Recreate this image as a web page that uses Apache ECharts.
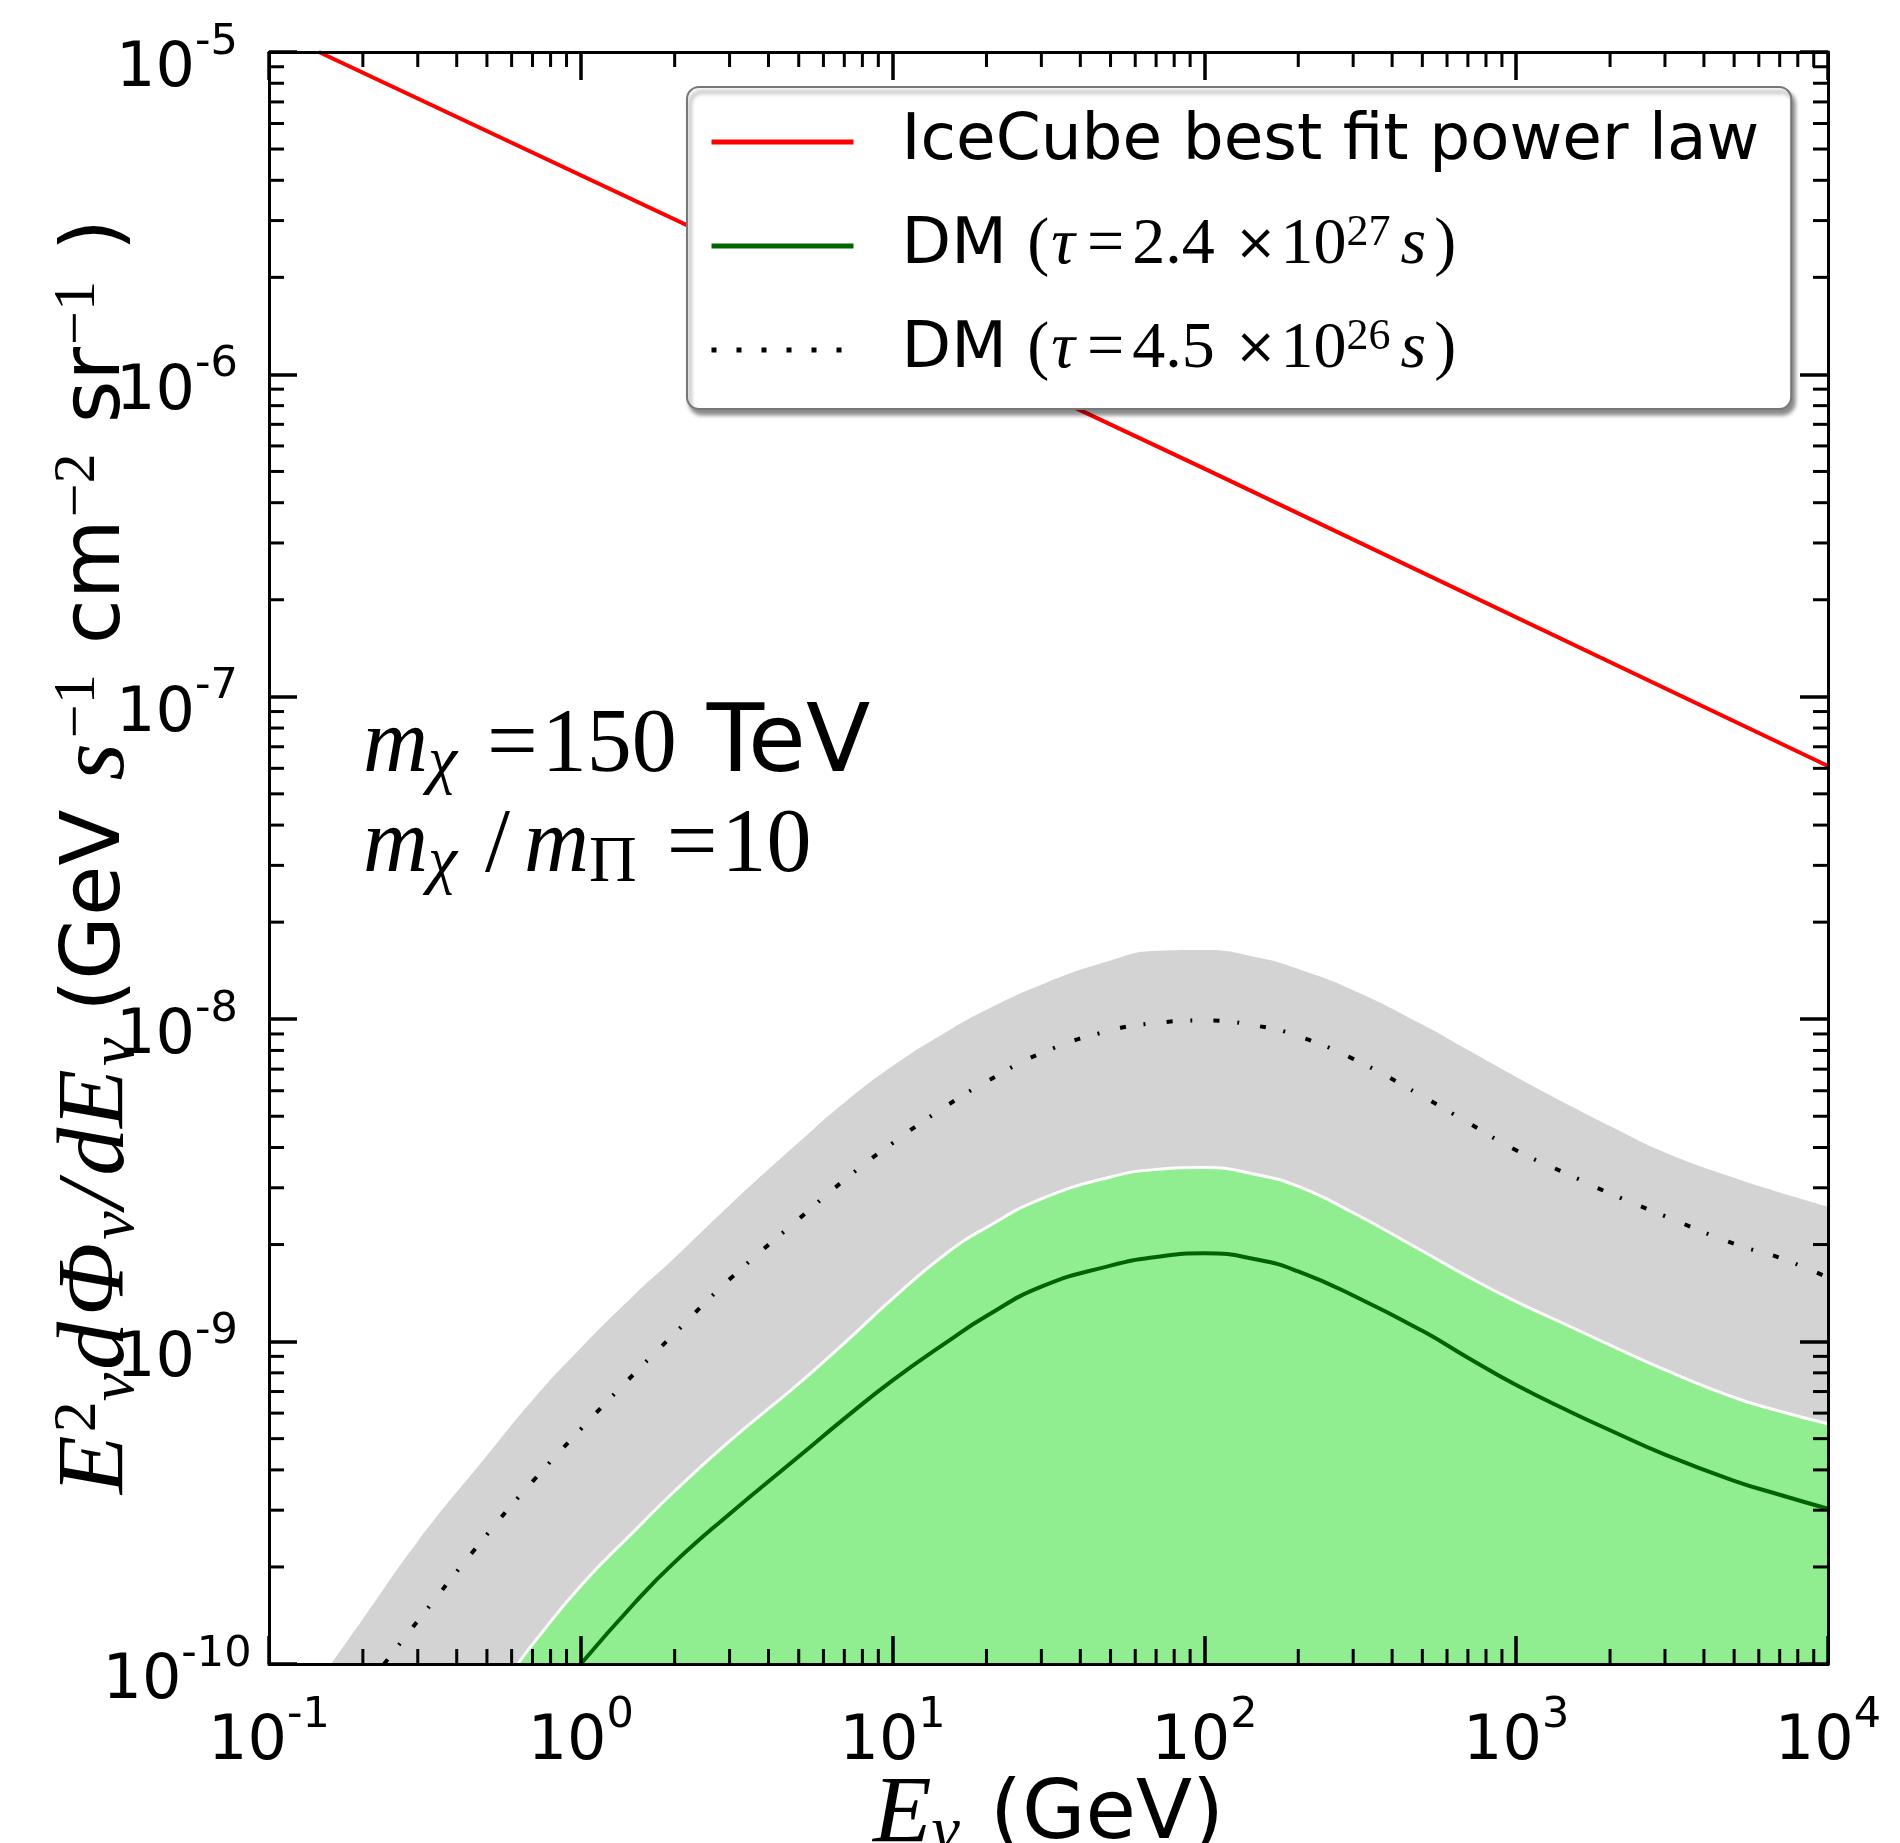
<!DOCTYPE html>
<html>
<head>
<meta charset="utf-8">
<title>DM neutrino flux vs IceCube</title>
<script src="https://cdn.jsdelivr.net/npm/echarts@6/dist/echarts.min.js"></script>
<style>
  html, body { margin: 0; padding: 0; background: #fff; }
  #main { width: 1900px; height: 1843px; }
</style>
</head>
<body>
<div id="main"></div>
<script>
// E^2 dPhi/dE in GeV s^-1 cm^-2 sr^-1, energies in GeV
var powerE = [0.1445, 100, 10000];
var powerFlux = [1.0e-5, 5.1e-7, 6.1e-8];

// tau = 4.5e26 s : upper edge of grey band
var grayE = [0.158, 0.2, 0.3, 0.5, 0.7, 1, 1.5, 2, 3, 5, 7, 10, 15, 20, 30, 50, 70, 100, 150, 200, 300, 500, 700, 1000, 1500, 2000, 3000, 5000, 7000, 10000];
var grayFlux = [1.0e-10, 1.38e-10, 2.40e-10, 4.43e-10, 6.58e-10, 9.55e-10, 1.41e-9, 1.82e-9, 2.65e-9, 4.15e-9, 5.51e-9, 7.16e-9, 9.18e-9, 1.07e-8, 1.28e-8, 1.52e-8, 1.63e-8, 1.64e-8, 1.55e-8, 1.43e-8, 1.23e-8, 9.62e-9, 8.02e-9, 6.62e-9, 5.37e-9, 4.66e-9, 3.86e-9, 3.22e-9, 2.90e-9, 2.62e-9];

// tau = 4.5e26 s : central (dotted) curve
var dotE = [0.234, 0.3, 0.5, 0.7, 1, 1.5, 2, 3, 5, 7, 10, 15, 20, 30, 50, 70, 100, 150, 200, 300, 500, 700, 1000, 1500, 2000, 3000, 5000, 7000, 10000];
var dotFlux = [1.0e-10, 1.36e-10, 2.52e-10, 3.68e-10, 5.35e-10, 8.04e-10, 1.06e-9, 1.56e-9, 2.40e-9, 3.17e-9, 4.13e-9, 5.41e-9, 6.40e-9, 7.85e-9, 9.23e-9, 9.73e-9, 9.91e-9, 9.51e-9, 8.86e-9, 7.53e-9, 5.77e-9, 4.78e-9, 3.92e-9, 3.27e-9, 2.88e-9, 2.45e-9, 2.01e-9, 1.82e-9, 1.58e-9];

// tau = 2.4e27 s : upper edge of green band
var greenE = [0.628, 0.7, 1, 1.5, 2, 3, 5, 7, 10, 15, 20, 30, 50, 70, 100, 150, 200, 300, 500, 700, 1000, 1500, 2000, 3000, 5000, 7000, 10000];
var greenFlux = [1.0e-10, 1.15e-10, 1.75e-10, 2.61e-10, 3.44e-10, 4.91e-10, 7.41e-10, 9.89e-10, 1.36e-9, 1.89e-9, 2.26e-9, 2.77e-9, 3.24e-9, 3.42e-9, 3.47e-9, 3.28e-9, 3.03e-9, 2.51e-9, 1.91e-9, 1.59e-9, 1.33e-9, 1.11e-9, 9.75e-10, 8.17e-10, 6.71e-10, 6.08e-10, 5.56e-10];

// tau = 2.4e27 s : central (solid) curve
var solidE = [1, 1.5, 2, 3, 5, 7, 10, 15, 20, 30, 50, 70, 100, 150, 200, 300, 500, 700, 1000, 1500, 2000, 3000, 5000, 7000, 10000];
var solidFlux = [1.0e-10, 1.56e-10, 2.07e-10, 2.92e-10, 4.40e-10, 5.77e-10, 7.58e-10, 1.00e-9, 1.20e-9, 1.48e-9, 1.72e-9, 1.83e-9, 1.88e-9, 1.79e-9, 1.65e-9, 1.39e-9, 1.08e-9, 8.91e-10, 7.33e-10, 6.04e-10, 5.31e-10, 4.46e-10, 3.70e-10, 3.35e-10, 3.03e-10];

var xMin = 0.1, xMax = 1e4;
var yMin = 1e-10, yMax = 1e-5;
var minorX = [];
var minorY = [];
for (var n = -1; n < 4; n++) {
  for (var k = 2; k < 10; k++) minorX.push(k * Math.pow(10, n));
}
for (var m = -10; m < -5; m++) {
  for (var k2 = 2; k2 < 10; k2++) minorY.push(k2 * Math.pow(10, m));
}

var names = ['IceCube best fit power law', 'DM (τ=2.4×10^27 s)', 'DM (τ=4.5×10^26 s)'];
var legendText = {};
legendText[names[0]] = 'IceCube best fit power law';
legendText[names[1]] = 'DM {p|(}{tau|τ}{eq|=}{m|2.4}{x|×}{m|10}{sup|27}{s|s}{pr|)}';
legendText[names[2]] = 'DM {p|(}{tau|τ}{eq|=}{m|4.5}{x|×}{m|10}{sup|26}{s|s}{pr|)}';

function zip(a, b) {
  return a.map(function (v, i) { return [v, b[i]]; });
}
function expLabel(v) {
  var e = Math.round(Math.log10(v));
  return '{b|10}{s|' + e + '}';
}

var SANS = 'DejaVu Sans';
var SERIF = 'Liberation Serif';
var tickRich = {
  b: { fontFamily: SANS, fontSize: 62, lineHeight: 62, verticalAlign: 'bottom', color: '#000' },
  s: { fontFamily: SANS, fontSize: 43, lineHeight: 43, verticalAlign: 'bottom', padding: [0, 0, 37, 0], color: '#000' }
};
var yTitleRich = {
  it: { fontFamily: SERIF, fontStyle: 'italic', fontSize: 96, lineHeight: 100, verticalAlign: 'middle', color: '#000', padding: [0, 3, 0, 3] },
  t: { fontFamily: SANS, fontSize: 82, lineHeight: 100, verticalAlign: 'middle', color: '#000' },
  sub: { fontFamily: SERIF, fontStyle: 'italic', fontSize: 64, lineHeight: 36, verticalAlign: 'bottom', color: '#000' },
  sup: { fontFamily: SERIF, fontSize: 62, lineHeight: 40, verticalAlign: 'top', color: '#000' },
  ex: { fontFamily: SERIF, fontSize: 60, lineHeight: 40, verticalAlign: 'top', color: '#000', padding: [0, 4, 0, 2] }
};
var xTitleRich = {
  it: { fontFamily: SERIF, fontStyle: 'italic', fontSize: 96, lineHeight: 96, verticalAlign: 'middle', color: '#000' },
  t: { fontFamily: SANS, fontSize: 82, lineHeight: 96, verticalAlign: 'middle', color: '#000', padding: [0, 0, 0, 30] },
  sub: { fontFamily: SERIF, fontStyle: 'italic', fontSize: 64, lineHeight: 36, verticalAlign: 'bottom', color: '#000' }
};

var chart = echarts.init(document.getElementById('main'));

var axisCommon = {
  type: 'log',
  logBase: 10,
  interval: 1,
  z: 5,
  nameMoveOverlap: false,
  axisLine: { lineStyle: { color: '#000', width: 3 } },
  axisTick: { inside: true, length: 28, lineStyle: { color: '#000', width: 3.5 } },
  splitLine: { show: false }
};

function minorTicks(horizontal) {
  return function (params, api) {
    var v = api.value(horizontal ? 0 : 1);
    var a, b, len = 15;
    if (horizontal) {
      a = api.coord([v, yMin]);
      b = api.coord([v, yMax]);
      return { type: 'group', children: [
        { type: 'line', shape: { x1: a[0], y1: a[1], x2: a[0], y2: a[1] - len }, style: { stroke: '#000', lineWidth: 3 } },
        { type: 'line', shape: { x1: b[0], y1: b[1], x2: b[0], y2: b[1] + len }, style: { stroke: '#000', lineWidth: 3 } }
      ] };
    }
    a = api.coord([xMin, v]);
    b = api.coord([xMax, v]);
    return { type: 'group', children: [
      { type: 'line', shape: { x1: a[0], y1: a[1], x2: a[0] + len, y2: a[1] }, style: { stroke: '#000', lineWidth: 3 } },
      { type: 'line', shape: { x1: b[0], y1: b[1], x2: b[0] - len, y2: b[1] }, style: { stroke: '#000', lineWidth: 3 } }
    ] };
  };
}

chart.setOption({
  animation: false,
  backgroundColor: '#fff',
  grid: { left: 269, top: 52, width: 1559, height: 1612, containLabel: false, outerBoundsMode: 'none' },
  legend: {
    data: [
      { name: names[0] },
      { name: names[1] },
      { name: names[2], lineStyle: { type: [5, 20], width: 5 } }
    ],
    left: 687,
    top: 87,
    orient: 'vertical',
    selectedMode: false,
    itemWidth: 142,
    itemHeight: 12,
    itemGap: 34,
    padding: [20, 32, 24, 22],
    backgroundColor: '#fff',
    borderColor: '#777',
    borderWidth: 2,
    borderRadius: 12,
    shadowColor: 'rgba(0,0,0,0.45)',
    shadowBlur: 4,
    shadowOffsetX: 3,
    shadowOffsetY: 5,
    itemStyle: { opacity: 0 },
    lineStyle: { width: 5 },
    formatter: function (name) { return legendText[name]; },
    textStyle: {
      fontFamily: SANS,
      fontSize: 64.5,
      lineHeight: 70,
      color: '#000',
      padding: [0, 0, 0, 43],
      rich: {
        p: { fontFamily: SERIF, fontSize: 66, lineHeight: 70, color: '#000' },
        pr: { fontFamily: SERIF, fontSize: 66, lineHeight: 70, color: '#000', padding: [0, 0, 0, 8] },
        tau: { fontFamily: SERIF, fontStyle: 'italic', fontSize: 66, lineHeight: 70, color: '#000', padding: [0, 8, 0, 2] },
        eq: { fontFamily: SERIF, fontSize: 66, lineHeight: 70, color: '#000', padding: [0, 8, 0, 4] },
        m: { fontFamily: SERIF, fontSize: 66, lineHeight: 70, color: '#000' },
        s: { fontFamily: SERIF, fontStyle: 'italic', fontSize: 66, lineHeight: 70, color: '#000', padding: [0, 0, 0, 10] },
        x: { fontFamily: SANS, fontSize: 50, lineHeight: 70, color: '#000', padding: [0, 4, 0, 20] },
        sup: { fontFamily: SERIF, fontSize: 44, lineHeight: 30, verticalAlign: 'top', color: '#000' }
      }
    }
  },
  xAxis: [
    Object.assign({}, axisCommon, {
      position: 'bottom',
      min: xMin,
      max: xMax,
      axisLabel: { margin: 48, formatter: expLabel, rich: tickRich },
      name: '{it|E}{sub|ν}{t|(GeV)}',
      nameLocation: 'middle',
      nameGap: 105,
      nameTextStyle: { rich: xTitleRich }
    }),
    Object.assign({}, axisCommon, {
      position: 'top',
      min: xMin,
      max: xMax,
      axisLabel: { show: false }
    })
  ],
  yAxis: [
    Object.assign({}, axisCommon, {
      position: 'left',
      min: yMin,
      max: yMax,
      axisLabel: { margin: 92, align: 'center', padding: [36, 0, 0, 0], formatter: expLabel, rich: tickRich },
      name: '{it|E}{sup|2}{sub|ν}{it|d}{it|Φ}{sub|ν}{it|/}{it|dE}{sub|ν}{t| (GeV }{it|s}{ex|−1}{t| cm}{ex|−2}{t| sr}{ex|−1}{t| )}',
      nameLocation: 'middle',
      nameRotate: 90,
      nameGap: 121,
      nameTextStyle: { rich: yTitleRich }
    }),
    Object.assign({}, axisCommon, {
      position: 'right',
      min: yMin,
      max: yMax,
      axisLabel: { show: false }
    })
  ],
  graphic: [{
    type: 'text',
    left: 363,
    top: 700,
    z: 10,
    style: {
      text: '{it|m}{sub|χ}{eq|=}{m|150}{t| TeV}\n{it|m}{sub|χ}{sl|/}{it|m}{subr|Π}{eq|=}{m|10}',
      rich: {
        it: { fontFamily: SERIF, fontStyle: 'italic', fontSize: 90, lineHeight: 100, verticalAlign: 'middle', fill: '#000' },
        m: { fontFamily: SERIF, fontSize: 90, lineHeight: 100, verticalAlign: 'middle', fill: '#000' },
        eq: { fontFamily: SERIF, fontSize: 90, lineHeight: 100, verticalAlign: 'middle', fill: '#000', padding: [0, 4, 0, 30] },
        sl: { fontFamily: SERIF, fontSize: 90, lineHeight: 100, verticalAlign: 'middle', fill: '#000', padding: [0, 14, 0, 28] },
        t: { fontFamily: SANS, fontSize: 94, lineHeight: 100, verticalAlign: 'middle', fill: '#000' },
        sub: { fontFamily: SERIF, fontStyle: 'italic', fontSize: 66, lineHeight: 36, verticalAlign: 'bottom', fill: '#000' },
        subr: { fontFamily: SERIF, fontSize: 66, lineHeight: 36, verticalAlign: 'bottom', fill: '#000' }
      }
    }
  }],
  series: [
    {
      name: 'grey band',
      type: 'line',
      data: zip(grayE, grayFlux),
      smooth: 0.5,
      symbol: 'none',
      lineStyle: { width: 0 },
      areaStyle: { color: '#d3d3d3', opacity: 1, origin: 'start' },
      z: 1
    },
    {
      name: 'green band',
      type: 'line',
      data: zip(greenE, greenFlux),
      smooth: 0.5,
      symbol: 'none',
      lineStyle: { width: 3, color: '#fff' },
      areaStyle: { color: '#90ee90', opacity: 1, origin: 'start' },
      z: 2
    },
    {
      name: names[2],
      type: 'line',
      data: zip(dotE, dotFlux),
      smooth: 0.5,
      symbol: 'none',
      color: '#000',
      lineStyle: { width: 4, color: '#000', type: [6, 18, 2, 21] },
      z: 3
    },
    {
      name: names[1],
      type: 'line',
      data: zip(solidE, solidFlux),
      smooth: 0.5,
      symbol: 'none',
      color: '#006400',
      lineStyle: { width: 4, color: '#006400' },
      z: 3
    },
    {
      name: names[0],
      type: 'line',
      data: zip(powerE, powerFlux),
      symbol: 'none',
      color: '#ff0000',
      lineStyle: { width: 4, color: '#ff0000' },
      z: 3
    },
    {
      name: 'minor x ticks',
      type: 'custom',
      silent: true,
      z: 10,
      data: minorX.map(function (v) { return [v, yMin]; }),
      renderItem: minorTicks(true)
    },
    {
      name: 'minor y ticks',
      type: 'custom',
      silent: true,
      z: 10,
      data: minorY.map(function (v) { return [xMin, v]; }),
      renderItem: minorTicks(false)
    }
  ]
});
</script>
</body>
</html>
